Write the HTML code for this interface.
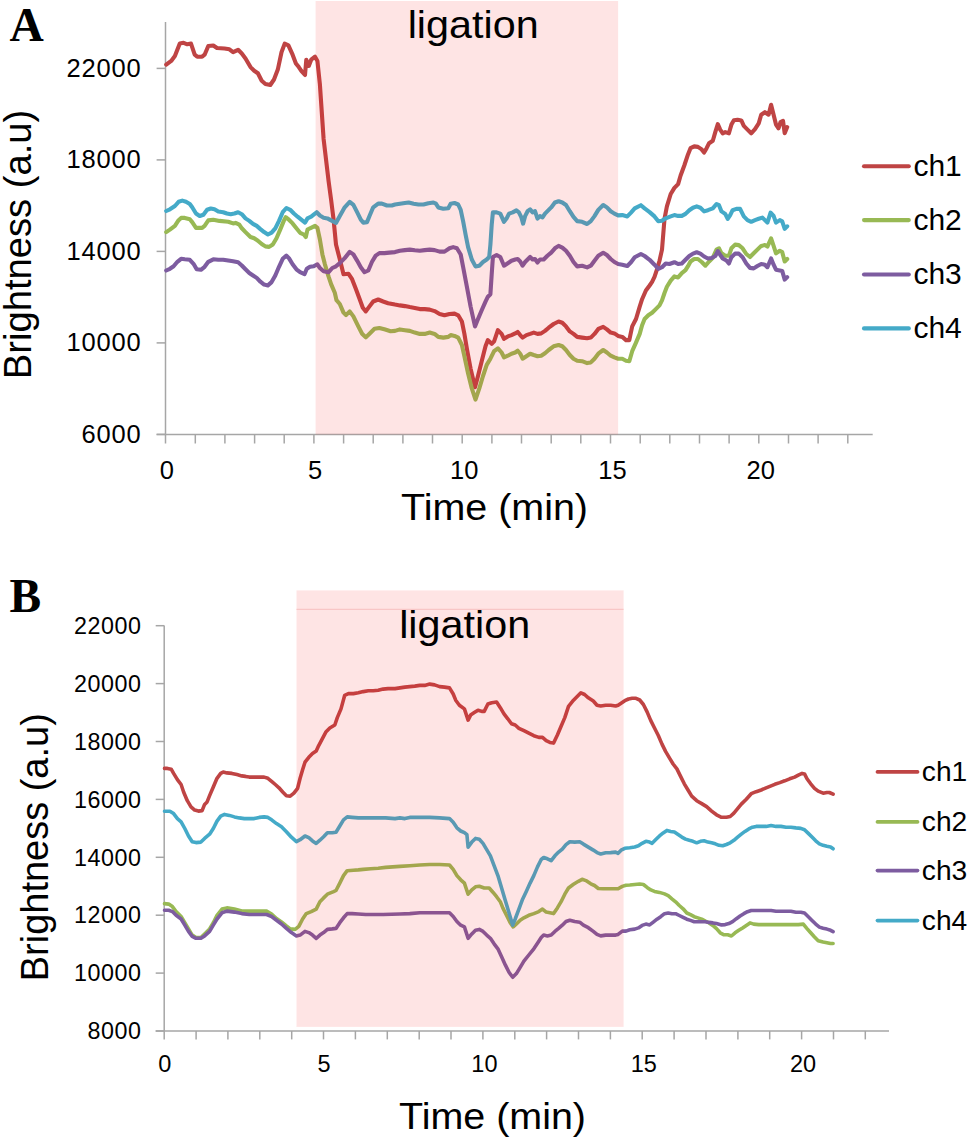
<!DOCTYPE html>
<html><head><meta charset="utf-8"><style>
html,body{margin:0;padding:0;background:#fff;}
body{width:968px;height:1140px;overflow:hidden;}
svg{display:block;font-family:'Liberation Sans', sans-serif;}
text{fill:#000;}
</style></head><body>
<svg width="968" height="1140" viewBox="0 0 968 1140">
<rect width="968" height="1140" fill="#fff"/>
<line x1="165.5" y1="22" x2="165.5" y2="443.5" stroke="#A6A6A6" stroke-width="1.5"/>
<line x1="156.6" y1="434.4" x2="872.7" y2="434.4" stroke="#A6A6A6" stroke-width="1.5"/>
<line x1="156.6" y1="68.4" x2="165.5" y2="68.4" stroke="#A6A6A6" stroke-width="1.5"/>
<line x1="156.6" y1="159.9" x2="165.5" y2="159.9" stroke="#A6A6A6" stroke-width="1.5"/>
<line x1="156.6" y1="251.4" x2="165.5" y2="251.4" stroke="#A6A6A6" stroke-width="1.5"/>
<line x1="156.6" y1="342.9" x2="165.5" y2="342.9" stroke="#A6A6A6" stroke-width="1.5"/>
<line x1="156.6" y1="434.4" x2="165.5" y2="434.4" stroke="#A6A6A6" stroke-width="1.5"/>
<line x1="195.3" y1="434.4" x2="195.3" y2="443.5" stroke="#A6A6A6" stroke-width="1.5"/>
<line x1="224.9" y1="434.4" x2="224.9" y2="443.5" stroke="#A6A6A6" stroke-width="1.5"/>
<line x1="254.6" y1="434.4" x2="254.6" y2="443.5" stroke="#A6A6A6" stroke-width="1.5"/>
<line x1="284.2" y1="434.4" x2="284.2" y2="443.5" stroke="#A6A6A6" stroke-width="1.5"/>
<line x1="313.9" y1="434.4" x2="313.9" y2="443.5" stroke="#A6A6A6" stroke-width="1.5"/>
<line x1="343.6" y1="434.4" x2="343.6" y2="443.5" stroke="#A6A6A6" stroke-width="1.5"/>
<line x1="373.2" y1="434.4" x2="373.2" y2="443.5" stroke="#A6A6A6" stroke-width="1.5"/>
<line x1="402.9" y1="434.4" x2="402.9" y2="443.5" stroke="#A6A6A6" stroke-width="1.5"/>
<line x1="432.5" y1="434.4" x2="432.5" y2="443.5" stroke="#A6A6A6" stroke-width="1.5"/>
<line x1="462.2" y1="434.4" x2="462.2" y2="443.5" stroke="#A6A6A6" stroke-width="1.5"/>
<line x1="491.9" y1="434.4" x2="491.9" y2="443.5" stroke="#A6A6A6" stroke-width="1.5"/>
<line x1="521.5" y1="434.4" x2="521.5" y2="443.5" stroke="#A6A6A6" stroke-width="1.5"/>
<line x1="551.2" y1="434.4" x2="551.2" y2="443.5" stroke="#A6A6A6" stroke-width="1.5"/>
<line x1="580.8" y1="434.4" x2="580.8" y2="443.5" stroke="#A6A6A6" stroke-width="1.5"/>
<line x1="610.5" y1="434.4" x2="610.5" y2="443.5" stroke="#A6A6A6" stroke-width="1.5"/>
<line x1="640.2" y1="434.4" x2="640.2" y2="443.5" stroke="#A6A6A6" stroke-width="1.5"/>
<line x1="669.8" y1="434.4" x2="669.8" y2="443.5" stroke="#A6A6A6" stroke-width="1.5"/>
<line x1="699.5" y1="434.4" x2="699.5" y2="443.5" stroke="#A6A6A6" stroke-width="1.5"/>
<line x1="729.1" y1="434.4" x2="729.1" y2="443.5" stroke="#A6A6A6" stroke-width="1.5"/>
<line x1="758.8" y1="434.4" x2="758.8" y2="443.5" stroke="#A6A6A6" stroke-width="1.5"/>
<line x1="788.5" y1="434.4" x2="788.5" y2="443.5" stroke="#A6A6A6" stroke-width="1.5"/>
<line x1="818.1" y1="434.4" x2="818.1" y2="443.5" stroke="#A6A6A6" stroke-width="1.5"/>
<line x1="847.8" y1="434.4" x2="847.8" y2="443.5" stroke="#A6A6A6" stroke-width="1.5"/>
<polyline points="166.2,64.6 171.2,60.9 174.9,56.0 179.8,43.6 183.6,42.8 187.3,44.3 191.0,43.6 194.7,54.7 197.2,56.7 202.1,56.7 204.6,54.7 208.3,46.0 213.3,45.5 217.0,48.0 224.5,48.5 229.4,49.3 233.1,52.2 238.1,49.8 241.8,53.5 245.5,58.4 250.5,67.1 254.2,70.8 257.9,73.3 261.7,80.7 265.4,84.0 270.3,85.0 274.0,79.5 277.8,69.6 281.5,52.2 284.7,43.6 288.4,45.3 292.6,54.7 295.9,63.4 298.8,67.1 301.3,70.8 305.0,75.0 306.3,59.7 308.8,65.9 311.2,59.7 315.0,56.7 317.4,60.9 319.9,84.5 323.6,139.0 328.6,181.2 331.1,199.8 333.6,219.7 336.0,244.5 339.8,259.3 343.5,274.2 348.4,273.7 352.1,279.2 355.9,289.1 359.6,299.0 362.8,307.7 365.8,311.4 369.5,306.4 373.2,301.5 378.2,299.5 383.1,301.5 388.1,303.2 395.0,304.6 399.9,305.4 404.9,306.1 409.8,307.1 414.8,307.9 419.8,309.1 424.7,309.1 429.7,309.6 434.6,311.1 439.6,314.0 444.5,315.3 449.5,314.0 454.5,313.6 458.2,315.3 461.9,321.5 464.4,333.9 466.9,348.8 470.6,368.6 475.0,387.2 478.0,376.0 481.7,361.2 485.5,346.3 487.9,340.1 491.7,343.8 494.1,341.3 497.9,330.2 501.6,333.9 504.0,338.8 507.8,336.4 511.5,335.1 515.2,333.4 517.7,331.9 520.2,335.1 522.6,337.6 526.4,335.1 530.1,333.9 533.8,332.6 537.5,333.9 541.2,333.4 545.0,330.9 548.7,327.7 553.6,324.0 558.6,321.5 562.3,322.7 566.0,326.4 569.8,331.4 573.5,333.9 577.2,336.9 582.1,337.6 587.1,338.3 590.8,337.6 594.5,333.9 598.3,328.9 603.2,326.9 606.9,329.4 610.7,332.6 614.4,333.4 618.1,335.9 622.3,336.9 626.0,340.1 629.3,340.1 632.2,326.4 636.0,319.0 639.7,306.6 642.1,299.2 645.9,290.5 649.6,285.5 652.1,281.8 654.5,276.9 657.0,269.4 659.5,260.7 662.0,249.6 664.5,218.8 666.9,206.4 670.7,194.0 674.4,187.9 678.1,184.1 680.6,175.5 684.3,165.5 688.0,154.4 690.5,148.2 694.2,146.4 697.9,146.9 701.7,149.4 704.1,152.6 706.6,148.2 709.1,143.2 712.8,140.7 715.3,132.1 717.8,124.1 720.2,129.6 722.7,133.3 725.2,132.1 728.9,133.3 731.4,124.6 733.9,120.2 737.6,119.7 741.3,120.4 743.8,125.9 747.5,129.6 751.2,133.3 755.0,129.1 758.7,123.4 761.2,114.7 764.9,112.2 768.6,114.7 771.1,104.8 773.6,114.7 776.0,124.6 778.5,128.3 780.5,122.1 783.0,120.9 784.7,133.3 787.2,127.1" fill="none" stroke="#BF4444" stroke-width="4.1" stroke-linejoin="round" stroke-linecap="round"/>
<polyline points="166.2,232.1 169.9,229.6 174.9,225.9 178.6,220.2 181.1,217.9 184.8,217.9 189.8,219.2 192.2,222.1 196.0,227.9 202.1,227.9 204.6,225.9 208.3,220.4 213.3,219.7 219.5,220.9 228.2,221.7 233.1,223.4 235.6,222.9 239.3,224.6 241.8,228.3 245.5,232.1 250.5,237.0 254.2,238.3 257.9,240.7 261.7,244.0 265.4,246.4 269.1,246.9 272.8,244.5 276.5,238.3 280.2,229.6 284.0,220.4 285.7,217.2 288.9,219.7 292.6,223.4 296.4,228.3 300.1,232.8 303.8,234.5 305.8,237.0 307.5,229.6 310.0,228.3 312.5,227.1 315.0,225.9 317.4,227.9 319.9,239.5 322.4,254.4 324.9,264.3 328.6,276.7 331.1,284.1 334.8,292.8 336.5,300.2 339.8,304.0 343.5,312.6 346.0,315.1 349.7,311.4 353.4,316.4 358.3,326.3 362.1,333.7 365.8,337.4 369.5,333.7 374.5,328.8 379.4,328.0 384.4,329.3 390.6,331.2 395.0,330.9 399.9,329.4 404.9,330.2 409.8,330.9 414.8,332.6 419.8,333.9 424.7,333.9 429.7,332.6 434.6,333.9 438.3,336.9 443.3,337.6 448.3,336.9 450.7,335.1 454.5,335.9 458.2,337.6 461.9,345.0 464.4,356.2 468.1,373.6 471.8,388.4 475.5,399.6 479.3,388.4 483.0,376.0 486.7,364.9 490.4,358.7 494.1,351.2 497.9,348.3 501.6,352.5 504.0,357.4 507.8,355.7 511.5,353.7 515.2,352.5 517.7,350.7 520.2,353.7 522.6,358.7 526.4,356.2 530.1,353.7 533.8,355.0 537.5,356.2 541.2,355.7 545.0,353.2 548.7,350.0 553.6,346.3 558.6,345.0 562.3,346.3 566.0,350.0 569.8,355.0 573.5,358.7 577.2,360.7 582.1,361.2 587.1,363.1 590.8,362.4 594.5,358.7 598.3,353.7 603.2,350.0 606.9,352.5 610.7,355.7 614.4,357.4 618.1,358.7 622.3,358.7 626.0,360.7 629.3,361.2 632.2,351.2 636.0,342.6 639.7,333.9 642.1,325.2 644.6,319.0 648.3,315.3 652.1,312.8 655.8,309.1 659.5,305.4 662.0,300.4 664.5,293.0 666.9,286.8 670.7,280.6 674.4,276.4 678.1,277.4 681.8,273.1 685.5,270.2 688.0,266.2 690.5,261.5 694.2,259.0 697.9,259.0 701.7,262.0 705.4,265.7 709.1,261.5 712.8,257.8 716.5,249.6 719.0,248.3 721.5,253.3 725.2,255.8 728.9,255.8 731.4,248.3 735.1,244.6 738.8,245.1 742.6,248.3 746.3,254.0 750.0,257.0 753.7,253.3 757.4,249.6 761.2,245.9 764.9,245.1 767.4,246.6 771.1,238.4 773.6,245.9 776.0,253.3 779.8,250.8 782.2,252.1 784.7,261.5 787.2,259.0" fill="none" stroke="#98B954" stroke-width="4.1" stroke-linejoin="round" stroke-linecap="round"/>
<polyline points="166.2,270.5 169.9,268.8 173.6,266.3 177.4,261.8 181.1,258.8 184.8,259.3 189.8,259.8 193.5,263.8 196.7,269.3 200.9,269.8 204.6,266.8 208.3,261.8 213.3,259.3 218.3,259.8 223.2,259.8 228.2,260.6 233.1,261.3 238.1,262.3 241.8,265.5 245.5,269.3 249.3,273.0 253.0,275.5 256.7,277.9 260.4,281.7 264.1,284.6 267.9,285.4 271.6,282.1 275.3,275.5 279.0,266.8 282.7,258.8 286.4,255.6 288.9,258.1 292.6,264.3 296.4,269.3 300.1,272.2 304.5,274.2 306.8,268.8 310.0,266.8 313.7,266.3 317.4,264.3 319.9,268.0 323.6,271.2 328.6,272.2 332.3,268.0 336.0,266.3 339.8,263.1 344.7,258.1 349.7,251.9 353.4,254.4 357.1,260.6 360.8,267.3 364.5,272.2 368.3,270.5 372.0,261.8 375.7,255.6 379.4,253.1 384.4,253.1 389.3,252.6 395.0,252.1 399.9,250.8 404.9,250.1 409.8,249.6 414.8,250.3 419.8,250.8 424.7,250.1 429.7,249.6 434.6,250.1 439.6,251.6 444.5,251.6 449.5,248.3 453.2,247.1 456.9,248.3 460.7,254.5 463.1,266.9 466.9,286.8 470.6,306.6 475.0,326.4 478.0,319.0 481.7,310.3 485.5,301.7 487.9,296.7 490.4,294.2 491.7,274.4 492.9,257.0 496.6,255.0 500.3,257.0 504.0,265.7 507.8,263.2 511.5,260.7 515.2,259.5 517.7,259.0 520.2,261.5 522.6,265.7 525.1,262.0 527.6,259.5 530.1,257.0 532.6,259.5 535.0,259.0 537.5,262.5 540.0,259.5 543.7,259.5 547.4,255.8 551.2,252.6 554.9,248.3 558.6,245.9 562.3,247.6 566.0,250.8 569.8,255.8 573.5,262.0 577.2,266.4 582.1,265.7 587.1,267.4 590.8,265.7 594.5,260.7 598.3,255.8 603.2,252.8 606.9,255.0 610.7,259.0 614.4,262.0 618.1,264.0 622.3,264.7 627.3,266.0 631.0,262.2 634.7,257.3 640.9,254.0 644.6,256.0 649.6,259.8 654.5,264.7 658.3,268.9 662.0,267.2 665.7,263.5 669.4,264.0 674.4,262.2 678.1,264.0 681.8,263.5 685.5,259.8 689.3,256.0 693.0,253.6 696.7,252.3 700.4,253.6 704.1,256.5 707.9,258.5 711.6,258.0 715.3,256.0 717.8,251.1 720.2,254.8 722.7,258.5 726.4,260.5 728.9,263.5 731.4,257.3 735.1,253.6 738.8,253.6 742.6,257.3 746.3,263.5 750.0,267.9 753.7,268.4 757.4,266.0 761.2,264.0 764.9,264.7 767.4,267.2 771.1,258.5 773.6,264.7 776.0,269.7 779.8,270.4 782.2,270.9 784.7,279.6 787.2,277.1" fill="none" stroke="#7D5CA0" stroke-width="4.1" stroke-linejoin="round" stroke-linecap="round"/>
<polyline points="166.2,211.0 169.9,209.3 174.9,206.0 178.6,201.8 182.3,200.6 186.0,201.8 189.8,204.0 192.2,207.3 196.0,213.5 199.7,216.0 203.4,214.7 207.1,209.8 210.8,208.5 214.5,209.3 218.3,211.5 223.2,212.2 226.9,213.5 230.7,214.2 234.4,213.5 238.1,212.2 241.8,214.2 245.5,218.4 249.3,220.9 253.0,223.9 256.7,225.9 260.4,229.1 264.1,232.1 267.9,234.5 271.6,232.6 275.3,228.3 279.0,220.9 282.7,212.2 286.4,208.0 290.2,209.8 293.9,213.5 297.6,216.7 301.3,219.7 305.0,222.6 307.5,218.4 311.2,216.7 313.7,214.7 316.7,212.2 319.9,215.5 323.6,217.7 327.4,218.4 331.1,220.4 336.0,222.9 339.8,216.0 344.7,207.3 349.7,201.8 353.4,204.8 357.1,212.2 360.8,219.7 363.3,222.6 367.0,222.1 369.5,216.0 373.2,207.3 378.2,203.6 381.9,203.6 386.9,205.5 391.8,205.5 395.0,204.5 399.9,203.7 404.9,203.0 408.6,202.5 413.6,203.7 418.5,204.5 423.5,204.5 428.4,203.2 433.4,202.5 435.9,203.7 438.3,207.4 443.3,208.7 448.3,208.2 450.7,203.7 454.5,203.0 458.2,204.5 460.7,209.9 463.1,221.1 465.6,234.7 468.1,247.1 471.8,259.5 475.5,266.4 479.3,265.7 483.0,262.0 486.7,259.5 489.2,257.0 490.4,244.6 491.7,224.8 492.9,212.4 496.6,212.4 500.3,213.6 504.0,221.8 506.5,218.6 509.0,213.6 512.7,212.4 516.4,210.4 518.9,212.4 521.4,217.4 523.1,223.6 525.1,216.1 527.6,211.2 530.1,209.4 532.6,212.4 535.0,211.2 537.5,218.6 540.0,216.1 542.5,217.4 545.0,213.6 548.7,209.9 551.2,207.4 554.9,202.5 558.6,201.2 562.3,202.5 566.0,205.0 569.8,211.2 573.5,216.9 577.2,221.1 582.1,221.8 587.1,224.0 590.8,221.1 594.5,216.1 598.3,209.9 603.2,205.0 606.9,207.4 610.7,211.2 614.4,213.6 618.1,215.4 622.3,215.1 627.3,216.4 631.0,212.6 634.7,208.4 640.9,205.2 644.6,208.4 649.6,212.1 654.5,216.4 658.3,221.3 662.0,220.8 665.7,218.3 670.7,216.4 674.4,215.1 678.1,215.9 681.8,215.9 685.5,213.9 689.3,210.2 693.0,207.7 696.7,206.4 700.4,207.7 704.1,211.4 707.9,210.2 712.8,208.4 716.5,204.0 719.0,205.2 721.5,211.4 725.2,213.9 727.7,218.8 730.2,215.1 732.6,210.2 736.4,208.9 740.1,208.9 743.8,216.4 747.5,220.1 751.2,221.8 755.0,220.1 758.7,218.8 762.4,217.6 764.9,220.1 767.4,222.6 770.6,212.6 773.6,215.9 776.0,222.6 779.8,220.1 782.2,221.3 784.7,228.8 787.2,226.3" fill="none" stroke="#44AAC8" stroke-width="4.1" stroke-linejoin="round" stroke-linecap="round"/>
<rect x="315.6" y="1" width="302.5" height="433.4" fill="rgba(245,30,30,0.12)"/>
<text x="407.7" y="38" font-size="39" textLength="131" lengthAdjust="spacingAndGlyphs">ligation</text>
<text x="141.5" y="76.6" font-size="25.5" letter-spacing="0.8" text-anchor="end">22000</text>
<text x="141.5" y="168.1" font-size="25.5" letter-spacing="0.8" text-anchor="end">18000</text>
<text x="141.5" y="259.6" font-size="25.5" letter-spacing="0.8" text-anchor="end">14000</text>
<text x="141.5" y="351.1" font-size="25.5" letter-spacing="0.8" text-anchor="end">10000</text>
<text x="141.5" y="442.6" font-size="25.5" letter-spacing="0.8" text-anchor="end">6000</text>
<text x="166.8" y="479.2" font-size="25.5" text-anchor="middle">0</text>
<text x="315.1" y="479.2" font-size="25.5" text-anchor="middle">5</text>
<text x="464.2" y="479.2" font-size="25.5" text-anchor="middle">10</text>
<text x="612.5" y="479.2" font-size="25.5" text-anchor="middle">15</text>
<text x="760.8" y="479.2" font-size="25.5" text-anchor="middle">20</text>
<text x="401" y="519.7" font-size="37" textLength="187" lengthAdjust="spacingAndGlyphs">Time (min)</text>
<text transform="translate(30.7,379.2) rotate(-90)" x="0" y="0" font-size="38" textLength="269.5" lengthAdjust="spacingAndGlyphs">Brightness (a.u)</text>
<line x1="864" y1="166.3" x2="908.8" y2="166.3" stroke="#BF4444" stroke-width="4.1" stroke-linecap="round"/>
<text x="913.4" y="176.10000000000002" font-size="30">ch1</text>
<line x1="864" y1="220.1" x2="908.8" y2="220.1" stroke="#98B954" stroke-width="4.1" stroke-linecap="round"/>
<text x="913.4" y="229.9" font-size="30">ch2</text>
<line x1="864" y1="274.5" x2="908.8" y2="274.5" stroke="#7D5CA0" stroke-width="4.1" stroke-linecap="round"/>
<text x="913.4" y="284.3" font-size="30">ch3</text>
<line x1="864" y1="328.4" x2="908.8" y2="328.4" stroke="#44AAC8" stroke-width="4.1" stroke-linecap="round"/>
<text x="913.4" y="338.2" font-size="30">ch4</text>
<text x="9.5" y="40.9" font-size="47.5" font-family="'Liberation Serif', serif" font-weight="bold">A</text>
<line x1="164.2" y1="625.5" x2="164.2" y2="1039.4" stroke="#A6A6A6" stroke-width="1.5"/>
<line x1="155.7" y1="1031" x2="889" y2="1031" stroke="#A6A6A6" stroke-width="1.5"/>
<line x1="155.7" y1="625.7" x2="164.2" y2="625.7" stroke="#A6A6A6" stroke-width="1.5"/>
<line x1="155.7" y1="683.6" x2="164.2" y2="683.6" stroke="#A6A6A6" stroke-width="1.5"/>
<line x1="155.7" y1="741.5" x2="164.2" y2="741.5" stroke="#A6A6A6" stroke-width="1.5"/>
<line x1="155.7" y1="799.4" x2="164.2" y2="799.4" stroke="#A6A6A6" stroke-width="1.5"/>
<line x1="155.7" y1="857.3" x2="164.2" y2="857.3" stroke="#A6A6A6" stroke-width="1.5"/>
<line x1="155.7" y1="915.2" x2="164.2" y2="915.2" stroke="#A6A6A6" stroke-width="1.5"/>
<line x1="155.7" y1="973.1" x2="164.2" y2="973.1" stroke="#A6A6A6" stroke-width="1.5"/>
<line x1="155.7" y1="1031.0" x2="164.2" y2="1031.0" stroke="#A6A6A6" stroke-width="1.5"/>
<line x1="196.1" y1="1031" x2="196.1" y2="1039.4" stroke="#A6A6A6" stroke-width="1.5"/>
<line x1="227.9" y1="1031" x2="227.9" y2="1039.4" stroke="#A6A6A6" stroke-width="1.5"/>
<line x1="259.8" y1="1031" x2="259.8" y2="1039.4" stroke="#A6A6A6" stroke-width="1.5"/>
<line x1="291.7" y1="1031" x2="291.7" y2="1039.4" stroke="#A6A6A6" stroke-width="1.5"/>
<line x1="323.5" y1="1031" x2="323.5" y2="1039.4" stroke="#A6A6A6" stroke-width="1.5"/>
<line x1="355.4" y1="1031" x2="355.4" y2="1039.4" stroke="#A6A6A6" stroke-width="1.5"/>
<line x1="387.3" y1="1031" x2="387.3" y2="1039.4" stroke="#A6A6A6" stroke-width="1.5"/>
<line x1="419.2" y1="1031" x2="419.2" y2="1039.4" stroke="#A6A6A6" stroke-width="1.5"/>
<line x1="451.0" y1="1031" x2="451.0" y2="1039.4" stroke="#A6A6A6" stroke-width="1.5"/>
<line x1="482.9" y1="1031" x2="482.9" y2="1039.4" stroke="#A6A6A6" stroke-width="1.5"/>
<line x1="514.8" y1="1031" x2="514.8" y2="1039.4" stroke="#A6A6A6" stroke-width="1.5"/>
<line x1="546.6" y1="1031" x2="546.6" y2="1039.4" stroke="#A6A6A6" stroke-width="1.5"/>
<line x1="578.5" y1="1031" x2="578.5" y2="1039.4" stroke="#A6A6A6" stroke-width="1.5"/>
<line x1="610.4" y1="1031" x2="610.4" y2="1039.4" stroke="#A6A6A6" stroke-width="1.5"/>
<line x1="642.2" y1="1031" x2="642.2" y2="1039.4" stroke="#A6A6A6" stroke-width="1.5"/>
<line x1="674.1" y1="1031" x2="674.1" y2="1039.4" stroke="#A6A6A6" stroke-width="1.5"/>
<line x1="706.0" y1="1031" x2="706.0" y2="1039.4" stroke="#A6A6A6" stroke-width="1.5"/>
<line x1="737.9" y1="1031" x2="737.9" y2="1039.4" stroke="#A6A6A6" stroke-width="1.5"/>
<line x1="769.7" y1="1031" x2="769.7" y2="1039.4" stroke="#A6A6A6" stroke-width="1.5"/>
<line x1="801.6" y1="1031" x2="801.6" y2="1039.4" stroke="#A6A6A6" stroke-width="1.5"/>
<line x1="833.5" y1="1031" x2="833.5" y2="1039.4" stroke="#A6A6A6" stroke-width="1.5"/>
<line x1="865.3" y1="1031" x2="865.3" y2="1039.4" stroke="#A6A6A6" stroke-width="1.5"/>
<polyline points="164.5,768.4 167.4,768.4 171.2,769.2 173.6,773.4 177.4,779.6 181.1,784.5 183.6,792.0 187.3,800.7 191.0,806.9 194.7,810.1 198.4,811.1 202.1,810.6 204.6,804.4 207.1,801.9 209.6,795.7 213.3,787.0 217.0,778.3 220.7,773.4 223.2,772.1 226.9,772.9 231.9,773.4 236.9,774.6 241.8,775.9 245.5,776.4 249.3,777.1 254.2,777.1 259.2,777.1 264.1,777.1 267.9,778.3 271.6,781.3 275.3,784.5 279.0,787.8 282.7,792.0 286.4,795.7 290.2,796.2 293.9,793.2 297.6,788.3 300.1,778.3 302.6,769.7 305.0,762.2 308.8,757.3 312.5,753.6 316.2,751.1 318.7,745.6 322.4,738.7 326.1,731.7 329.8,728.0 334.8,725.0 337.3,717.6 341.0,708.9 344.7,695.3 348.4,693.6 353.4,693.6 358.3,692.8 363.3,691.6 368.3,690.8 373.2,690.8 378.2,690.3 383.1,689.1 388.1,688.6 395.0,688.6 399.9,687.9 404.9,687.1 409.8,686.6 414.8,686.1 419.8,685.4 424.7,685.4 429.7,684.1 434.6,684.9 439.6,686.6 444.5,687.1 449.5,687.9 453.2,694.0 455.7,700.2 459.4,705.2 464.4,708.9 468.1,720.1 470.6,715.1 474.3,712.6 478.0,710.2 481.7,711.4 484.2,711.4 487.9,704.0 491.7,702.7 496.6,702.0 500.3,707.7 504.0,713.9 507.8,718.8 511.5,723.8 515.2,725.0 518.9,728.3 523.9,730.7 528.8,733.2 533.8,735.7 538.8,737.4 542.5,737.4 546.2,740.7 549.9,742.4 553.6,743.1 557.4,735.0 561.1,726.3 564.8,717.6 568.5,706.4 573.5,700.2 577.2,696.5 580.9,692.8 584.6,694.5 588.3,697.8 593.3,701.0 597.0,705.2 600.7,706.0 605.7,705.2 610.7,705.2 615.6,706.0 618.1,705.2 621.1,703.2 624.8,700.7 628.5,699.0 632.2,698.3 636.0,698.3 639.7,700.0 643.4,704.5 647.1,711.9 650.8,720.6 654.5,728.0 658.3,735.5 662.0,744.1 665.7,751.6 669.4,757.8 673.1,764.0 676.9,768.9 680.6,776.4 684.3,783.8 688.0,790.0 691.7,796.2 696.7,800.7 701.7,803.6 706.6,806.6 711.6,811.1 716.5,814.8 721.5,817.3 726.4,817.3 730.2,816.5 733.9,813.1 737.6,808.6 741.3,804.1 746.3,799.2 751.2,793.7 756.2,791.7 761.2,790.0 766.1,787.8 771.1,785.8 774.8,784.3 779.8,782.6 784.7,780.8 789.7,778.8 794.6,777.1 798.3,775.1 802.1,773.4 804.5,773.9 807.0,778.8 810.7,783.8 814.5,788.3 818.2,791.2 823.1,793.2 826.9,792.5 829.3,792.5 833.1,794.2" fill="none" stroke="#BF4444" stroke-width="3.6" stroke-linejoin="round" stroke-linecap="round"/>
<polyline points="164.5,903.6 168.7,904.1 172.4,906.6 176.1,911.6 181.1,916.5 184.8,922.7 188.5,928.9 192.2,935.1 196.0,937.6 200.9,937.6 204.6,933.9 209.6,928.9 213.3,922.7 217.0,915.3 222.0,909.1 226.9,907.9 234.4,909.1 241.8,911.1 249.3,911.1 259.2,911.1 266.6,911.1 271.6,914.0 276.5,918.5 281.5,922.0 286.4,926.0 290.2,928.9 295.1,929.4 298.8,926.4 302.6,919.0 306.3,913.6 311.2,911.6 316.2,909.1 319.9,901.7 323.6,897.9 327.4,894.2 333.6,891.7 336.0,890.5 339.8,883.1 343.5,875.6 347.2,870.7 353.4,870.2 358.3,869.9 363.3,869.4 370.7,868.7 378.2,868.2 385.6,867.4 399.9,866.4 409.8,865.7 419.8,865.0 429.7,864.5 439.6,864.5 449.5,865.0 453.2,869.4 456.9,875.6 460.7,879.8 464.4,883.1 468.1,894.2 471.8,889.8 475.5,886.8 479.3,886.3 484.2,888.0 489.2,888.0 492.9,892.2 496.6,896.7 500.3,901.7 502.8,907.9 506.5,915.3 510.2,922.7 513.2,926.9 516.4,924.0 520.2,920.2 523.9,917.8 528.8,915.3 533.8,913.6 538.8,911.6 542.5,909.1 546.2,912.1 549.9,912.8 553.6,913.6 557.4,907.9 561.1,901.7 564.8,894.2 568.5,888.0 573.5,884.3 578.4,881.3 582.1,879.3 585.9,880.6 590.8,883.8 594.5,885.5 598.3,888.5 603.2,888.8 608.2,888.8 613.1,888.8 618.1,888.8 622.3,886.4 626.0,885.2 629.8,885.0 634.7,884.5 639.7,884.0 643.4,884.5 647.1,887.4 650.8,889.9 654.5,891.4 659.5,892.4 664.5,893.9 668.2,895.6 671.9,898.8 675.6,901.8 679.3,905.5 683.1,908.8 686.8,913.0 690.5,914.7 694.2,916.7 697.9,917.9 701.7,919.2 705.4,921.2 709.1,922.9 712.8,925.4 716.5,928.6 720.2,932.8 724.0,934.8 727.7,934.8 731.4,936.0 735.1,932.8 738.8,930.3 742.6,927.9 746.3,925.4 750.0,922.9 753.7,924.1 758.7,924.6 763.6,924.6 768.6,924.6 773.6,924.6 778.5,924.6 783.5,924.6 788.4,924.6 793.4,924.6 798.3,924.6 803.3,924.1 807.0,928.6 810.7,932.8 814.5,937.0 818.2,940.7 823.1,942.0 826.9,942.7 830.6,943.5 833.1,943.5" fill="none" stroke="#98B954" stroke-width="3.6" stroke-linejoin="round" stroke-linecap="round"/>
<polyline points="164.5,910.3 168.7,910.3 172.4,911.6 176.1,915.3 181.1,919.0 184.8,925.2 188.5,931.4 192.2,936.4 196.0,938.3 200.9,938.3 204.6,935.9 209.6,931.4 213.3,925.2 217.0,919.0 222.0,912.8 226.9,911.1 234.4,912.1 241.8,913.6 249.3,914.5 259.2,914.5 266.6,914.5 271.6,916.5 276.5,920.2 281.5,924.0 286.4,928.4 291.4,932.6 296.4,935.9 300.1,935.1 305.0,931.4 308.8,932.6 312.5,935.1 316.2,938.3 319.9,935.1 323.6,932.6 327.4,929.4 332.3,928.9 336.0,928.4 339.8,922.7 343.5,917.8 347.2,913.6 352.1,913.6 358.3,914.0 365.8,914.5 373.2,914.5 383.1,914.5 399.9,914.0 409.8,913.6 419.8,912.8 429.7,912.8 439.6,912.8 449.5,912.8 453.2,916.5 456.9,921.5 460.7,925.2 464.4,926.9 468.1,938.3 471.8,933.9 475.5,930.2 479.3,929.4 483.0,931.4 486.7,935.1 490.4,938.3 494.1,943.8 497.9,948.8 501.6,956.7 505.3,964.9 509.0,972.3 512.7,977.3 516.4,973.6 520.2,967.4 523.9,961.2 528.8,955.0 533.8,948.8 537.5,943.3 541.2,937.6 543.7,935.1 547.4,935.9 551.2,935.1 554.9,931.4 558.6,928.4 562.3,925.2 566.0,921.5 569.8,920.2 574.7,921.5 579.7,922.2 583.4,925.2 588.3,927.7 593.3,931.4 597.0,934.4 600.7,935.9 605.7,935.1 610.7,935.1 615.6,935.1 618.1,934.4 622.3,931.1 626.0,931.1 629.8,929.8 634.7,929.1 638.4,927.9 642.1,925.4 645.9,924.1 649.6,924.9 653.3,922.1 657.0,919.2 660.7,916.7 664.5,913.7 668.2,913.0 671.9,913.7 675.6,913.7 679.3,915.5 683.1,917.4 686.8,919.2 690.5,920.4 694.2,921.7 697.9,921.7 701.7,921.7 705.4,921.7 709.1,922.4 712.8,922.9 716.5,923.6 721.5,924.9 725.2,924.6 728.9,923.6 732.6,921.7 736.4,918.7 740.1,916.0 743.8,913.7 747.5,911.7 751.2,910.5 756.2,910.5 761.2,910.5 766.1,910.5 771.1,910.5 776.0,911.2 781.0,911.2 786.0,911.2 790.9,911.2 795.9,912.2 800.8,912.2 804.5,913.0 808.3,916.7 812.0,920.4 815.7,924.1 819.4,927.1 823.1,928.3 826.9,929.1 830.6,930.3 833.1,931.6" fill="none" stroke="#7D5CA0" stroke-width="3.6" stroke-linejoin="round" stroke-linecap="round"/>
<polyline points="164.5,811.2 169.9,811.2 173.6,813.6 177.4,818.6 181.1,821.8 184.8,828.5 188.5,836.0 192.2,841.7 196.0,842.6 200.9,842.1 204.6,838.4 209.6,834.2 213.3,828.5 217.0,821.1 220.7,816.1 224.5,814.4 229.4,815.4 234.4,816.9 239.3,817.9 244.3,818.6 249.3,818.6 254.2,818.6 259.2,817.4 264.1,816.9 267.9,817.4 271.6,819.8 276.5,823.6 281.5,826.8 286.4,831.7 291.4,837.2 296.4,841.7 300.1,839.7 305.0,836.0 308.8,837.7 312.5,840.9 316.2,843.4 319.9,840.2 323.6,836.7 327.4,832.7 332.3,832.7 336.0,832.2 339.8,826.0 343.5,819.8 347.2,816.9 352.1,817.4 358.3,817.9 363.3,817.9 370.7,817.9 378.2,817.9 385.6,817.9 395.0,818.6 399.9,817.9 404.9,818.6 409.8,817.4 419.8,817.4 429.7,817.4 439.6,817.9 449.5,818.6 453.2,822.3 456.9,827.8 460.7,831.0 464.4,832.7 466.9,834.7 468.1,847.1 471.8,842.1 475.5,838.4 479.3,839.2 483.0,843.4 486.7,849.6 490.4,855.8 494.1,865.7 497.9,875.6 501.6,888.0 505.3,900.4 509.0,912.8 512.7,925.2 515.2,919.0 518.9,909.1 522.6,899.2 526.4,891.2 530.1,883.1 533.8,875.6 537.5,866.9 541.2,859.5 543.7,857.5 547.4,858.8 551.2,860.7 554.9,855.8 558.6,852.1 562.3,849.1 566.0,844.6 569.8,841.7 574.7,842.1 579.7,841.7 583.4,844.1 588.3,847.1 593.3,850.1 597.0,852.6 600.7,854.0 605.7,852.8 610.7,852.6 615.6,852.1 618.1,853.3 621.1,850.2 624.8,848.3 629.8,847.8 634.7,847.0 638.4,845.8 642.1,843.3 645.9,841.3 649.6,842.1 652.1,843.3 655.8,839.6 659.5,835.9 663.2,832.9 666.9,830.4 670.7,831.4 674.4,832.1 678.1,834.6 681.8,837.1 685.5,839.1 689.3,840.3 693.0,841.3 696.7,842.8 700.4,841.3 704.1,840.8 707.9,842.1 711.6,842.8 715.3,843.8 719.0,845.3 722.7,845.8 726.4,844.5 730.2,842.8 733.9,840.3 737.6,837.1 741.3,834.1 745.0,831.4 748.8,828.9 752.5,827.2 756.2,826.4 761.2,826.4 766.1,826.4 771.1,825.5 776.0,826.4 781.0,826.4 786.0,827.2 790.9,827.2 795.9,827.9 800.8,828.4 804.5,829.7 808.3,833.4 812.0,837.1 815.7,840.8 819.4,843.8 823.1,845.3 826.9,846.3 830.6,847.0 833.1,848.8" fill="none" stroke="#44AAC8" stroke-width="3.6" stroke-linejoin="round" stroke-linecap="round"/>
<rect x="296.5" y="590.4" width="327.1" height="436.5000000000001" fill="rgba(245,30,30,0.12)"/>
<line x1="296.5" y1="609.3" x2="623.6" y2="609.3" stroke="#F7BFBF" stroke-width="1"/>
<text x="399.2" y="638" font-size="39" textLength="131" lengthAdjust="spacingAndGlyphs">ligation</text>
<text x="141.5" y="633.9" font-size="23.3" letter-spacing="0.55" text-anchor="end">22000</text>
<text x="141.5" y="691.8" font-size="23.3" letter-spacing="0.55" text-anchor="end">20000</text>
<text x="141.5" y="749.7" font-size="23.3" letter-spacing="0.55" text-anchor="end">18000</text>
<text x="141.5" y="807.6" font-size="23.3" letter-spacing="0.55" text-anchor="end">16000</text>
<text x="141.5" y="865.5" font-size="23.3" letter-spacing="0.55" text-anchor="end">14000</text>
<text x="141.5" y="923.4" font-size="23.3" letter-spacing="0.55" text-anchor="end">12000</text>
<text x="141.5" y="981.3" font-size="23.3" letter-spacing="0.55" text-anchor="end">10000</text>
<text x="141.5" y="1039.2" font-size="23.3" letter-spacing="0.55" text-anchor="end">8000</text>
<text x="164.7" y="1072.3" font-size="23.5" text-anchor="middle">0</text>
<text x="324.0" y="1072.3" font-size="23.5" text-anchor="middle">5</text>
<text x="484.4" y="1072.3" font-size="23.5" text-anchor="middle">10</text>
<text x="643.8" y="1072.3" font-size="23.5" text-anchor="middle">15</text>
<text x="803.1" y="1072.3" font-size="23.5" text-anchor="middle">20</text>
<text x="399" y="1129.3" font-size="37" textLength="187" lengthAdjust="spacingAndGlyphs">Time (min)</text>
<text transform="translate(48.2,981.2) rotate(-90)" x="0" y="0" font-size="38" textLength="268" lengthAdjust="spacingAndGlyphs">Brightness (a.u)</text>
<line x1="877.4" y1="771.9" x2="917.6" y2="771.9" stroke="#BF4444" stroke-width="3.6" stroke-linecap="round"/>
<text x="921.8" y="781.0" font-size="28.2">ch1</text>
<line x1="877.4" y1="821.9" x2="917.6" y2="821.9" stroke="#98B954" stroke-width="3.6" stroke-linecap="round"/>
<text x="921.8" y="831.0" font-size="28.2">ch2</text>
<line x1="877.4" y1="870.6" x2="917.6" y2="870.6" stroke="#7D5CA0" stroke-width="3.6" stroke-linecap="round"/>
<text x="921.8" y="879.7" font-size="28.2">ch3</text>
<line x1="877.4" y1="920.6" x2="917.6" y2="920.6" stroke="#44AAC8" stroke-width="3.6" stroke-linecap="round"/>
<text x="921.8" y="929.7" font-size="28.2">ch4</text>
<text x="9.5" y="612" font-size="47.5" font-family="'Liberation Serif', serif" font-weight="bold">B</text>
</svg>
</body></html>
